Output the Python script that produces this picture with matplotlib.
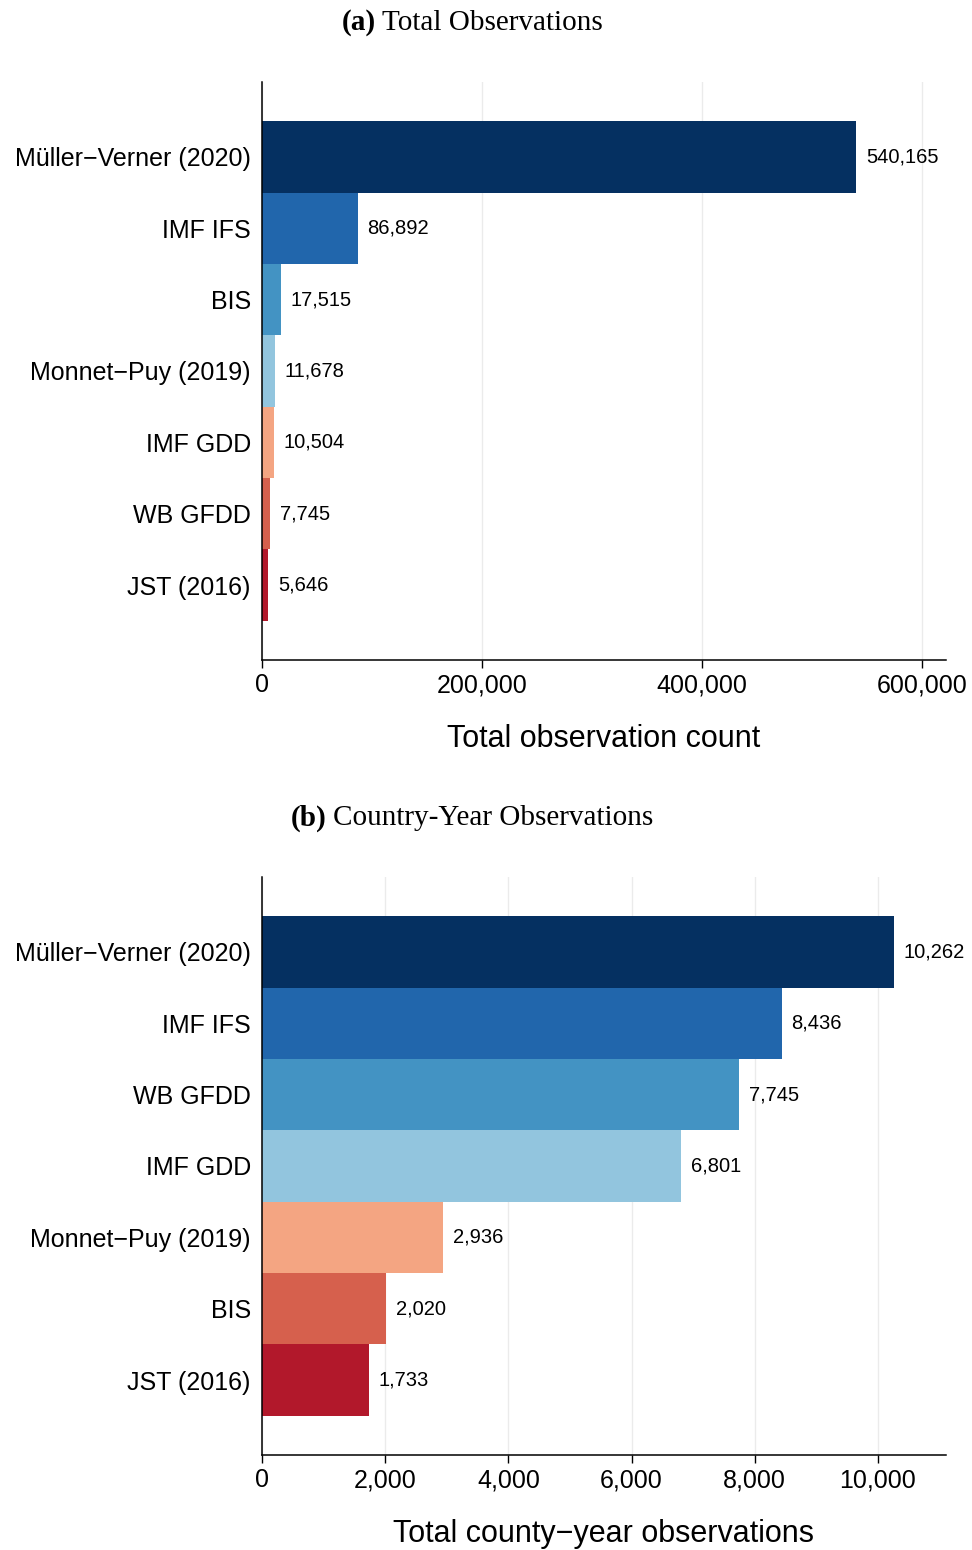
import matplotlib
matplotlib.use("Agg")
import matplotlib.pyplot as plt
from matplotlib.ticker import FuncFormatter

# panel (a): total observations
total_labels = ["Müller\u2212Verner (2020)", "IMF IFS", "BIS", "Monnet\u2212Puy (2019)",
                "IMF GDD", "WB GFDD", "JST (2016)"]
total_values = [540165, 86892, 17515, 11678, 10504, 7745, 5646]

# panel (b): country-year observations
cy_labels = ["Müller\u2212Verner (2020)", "IMF IFS", "WB GFDD", "IMF GDD",
             "Monnet\u2212Puy (2019)", "BIS", "JST (2016)"]
cy_values = [10262, 8436, 7745, 6801, 2936, 2020, 1733]

colors = ["#053061", "#2166ac", "#4393c3", "#92c5de", "#f4a582", "#d6604d", "#b2182b"]

plt.rcParams['font.family'] = ['Liberation Sans', 'DejaVu Sans']

fig = plt.figure(figsize=(9.72, 15.5), dpi=100)

comma = FuncFormatter(lambda v, p: f"{int(v):,}")


def draw_panel(ax, labels, values, xmax, ticks, xlabel):
    y = list(range(len(values)))[::-1]
    bars = ax.barh(y, values, height=1.0, color=colors, zorder=2)
    ax.bar_label(bars, labels=[f"{v:,}" for v in values], padding=7, fontsize=14.5)
    ax.set_yticks(y)
    ax.set_yticklabels(labels, fontsize=18)
    ax.set_ylim(-1.05, len(values) - 1 + 1.05)
    ax.set_xlim(0, xmax)
    ax.set_xticks(ticks)
    ax.xaxis.set_major_formatter(comma)
    ax.tick_params(axis='x', labelsize=18, length=6, width=1, direction='out')
    ax.tick_params(axis='y', length=0, pad=8)
    ax.grid(axis='x', color='#ebebeb', linewidth=1, zorder=0)
    for s in ['top', 'right']:
        ax.spines[s].set_visible(False)
    for s in ['left', 'bottom']:
        ax.spines[s].set_linewidth(1.1)
    ax.set_xlabel(xlabel, fontsize=22, labelpad=19)


ax1 = fig.add_axes([0.2695, 0.5742, 0.7037, 0.3729])
draw_panel(ax1, total_labels, total_values, 621800, [0, 200000, 400000, 600000],
           "Total observation count")

ax2 = fig.add_axes([0.2695, 0.0613, 0.7037, 0.3729])
draw_panel(ax2, cy_labels, cy_values, 11104, [0, 2000, 4000, 6000, 8000, 10000],
           "Total county\u2212year observations")

# panel titles
fig.text(376 / 972, 1 - 23 / 1550, "(a)", family='Liberation Serif', weight='bold',
         fontsize=21, ha='right', va='center')
fig.text(382 / 972, 1 - 23 / 1550, "Total Observations", family='Liberation Serif',
         fontsize=21, ha='left', va='center')
fig.text(326 / 972, 1 - 818 / 1550, "(b)", family='Liberation Serif', weight='bold',
         fontsize=21, ha='right', va='center')
fig.text(333 / 972, 1 - 818 / 1550, "Country-Year Observations", family='Liberation Serif',
         fontsize=21, ha='left', va='center')

fig.savefig("out.png", dpi=100)
